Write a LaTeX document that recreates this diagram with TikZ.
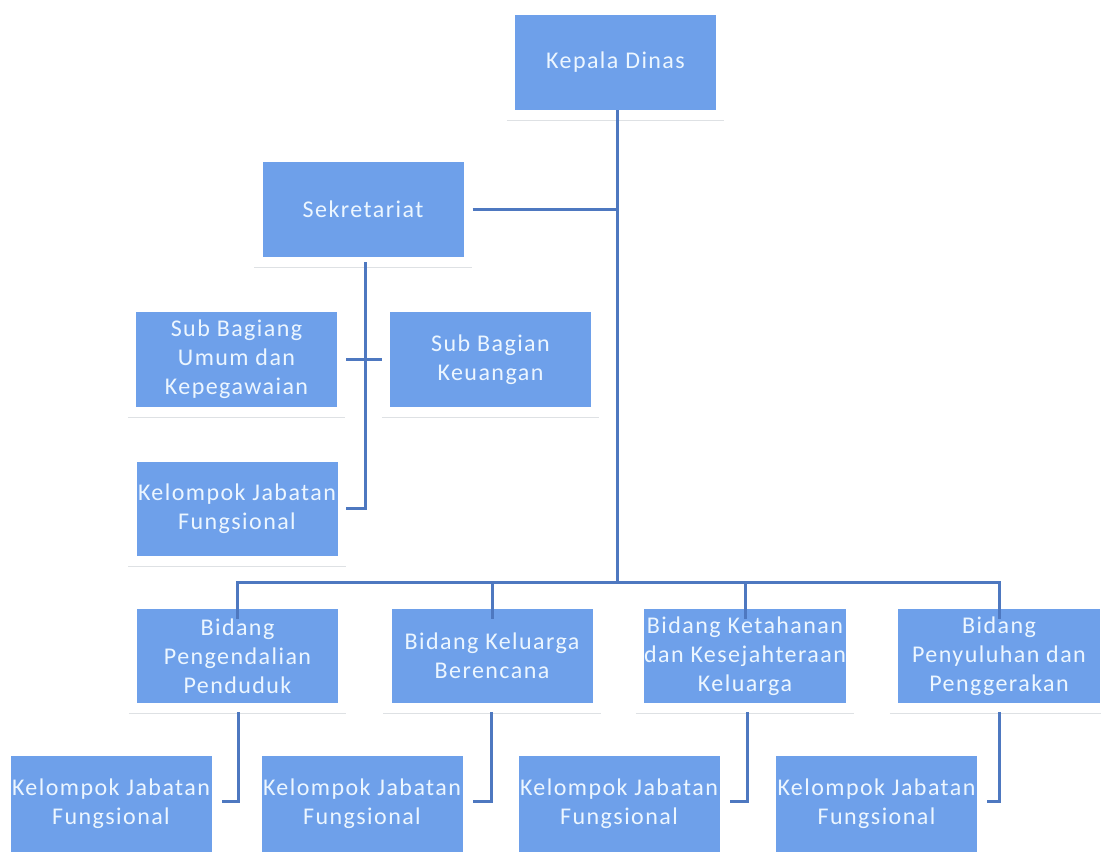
\documentclass[tikz,border=0pt]{standalone}
\usepackage{fontspec}
\newfontfamily\boxfont[LetterSpace=6]{Carlito}
\definecolor{boxblue}{RGB}{110,160,234}
\definecolor{lineblue}{RGB}{78,120,192}
\definecolor{txt}{RGB}{236,246,255}
\definecolor{shade}{RGB}{222,225,228}
\begin{document}
\begin{tikzpicture}[x=1pt,y=-1pt,
  unit/.style={fill=boxblue, text=txt, inner sep=0pt, align=center,
    minimum width=201pt, minimum height=95pt,
    font=\boxfont\fontsize{24}{29}\selectfont},
  conn/.style={draw=lineblue, line width=3pt},
  shadowline/.style={draw=shade, line width=1pt}]
\useasboundingbox[fill=white] (0,0) rectangle (1101,855);

\node[unit] (kd)  at (615.5,62.5) {Kepala Dinas};
\node[unit] (sek) at (363,209.5) {Sekretariat};
\node[unit] (sbu) at (236.5,359.5) {Sub Bagiang\\Umum dan\\Kepegawaian};
\node[unit] (sbk) at (490.5,359.5) {Sub Bagian\\Keuangan};
\node[unit, minimum height=94pt] (kjs) at (237,509) {Kelompok Jabatan\\Fungsional};

\node[unit, minimum height=94pt] (b1) at (237.5,656) {Bidang\\Pengendalian\\Penduduk};
\node[unit, minimum height=94pt] (b2) at (492,656) {Bidang Keluarga\\Berencana};
\node[unit, minimum height=94pt] (b3) at (745,656) {Bidang Ketahanan\\dan Kesejahteraan\\Keluarga};
\node[unit, minimum height=94pt, minimum width=202pt] (b4) at (999,656) {Bidang\\Penyuluhan dan\\Penggerakan};

\node[unit, minimum height=96pt] (k1) at (111,804) {Kelompok Jabatan\\Fungsional};
\node[unit, minimum height=96pt] (k2) at (362,804) {Kelompok Jabatan\\Fungsional};
\node[unit, minimum height=96pt] (k3) at (619,804) {Kelompok Jabatan\\Fungsional};
\node[unit, minimum height=96pt] (k4) at (876.5,804) {Kelompok Jabatan\\Fungsional};

% faint shadow lines under boxes
\foreach \n in {kd,sek,sbu,sbk,kjs,b1,b2,b3,b4}
  \draw[shadowline] ([xshift=-8pt,yshift=-10pt]\n.south west) -- ([xshift=8pt,yshift=-10pt]\n.south east);

% main trunk and bus
\coordinate (bus) at (617,582);
\draw[conn] (617,110) -- (bus);
\draw[conn] (617,582) -- (237.5,582) -- ([yshift=-10pt]b1.north);
\draw[conn] (617,582) -- (999,582) -- ([yshift=-10pt]b4.north);
\draw[conn] (492,582) -- ([yshift=-10pt]b2.north);
\draw[conn] (745,582) -- ([yshift=-10pt]b3.north);

% secretariat
\draw[conn] ([xshift=9pt]sek.east) -- (617,209.5);
\draw[conn] (365,262) -- (365,508) -- ([xshift=8pt]kjs.east |- 0,508);
\draw[conn] ([xshift=9pt]sbu.east) -- ([xshift=-8pt]sbk.west);

% brackets to functional groups
\draw[conn] (238,712) -- (238,801) -- ([xshift=10pt]k1.east |- 0,801);
\draw[conn] (491,712) -- (491,801) -- ([xshift=10pt]k2.east |- 0,801);
\draw[conn] (747,712) -- (747,801) -- ([xshift=10pt]k3.east |- 0,801);
\draw[conn] (999,712) -- (999,801) -- ([xshift=10pt]k4.east |- 0,801);
\end{tikzpicture}
\end{document}
